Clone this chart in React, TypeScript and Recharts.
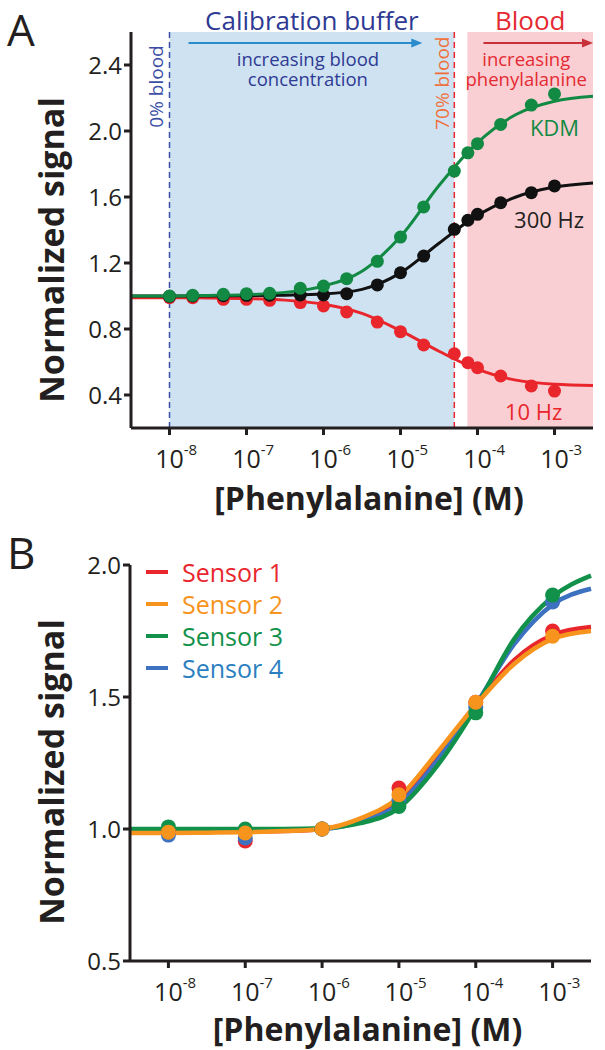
import React from 'react';
import {
  ComposedChart, Line, Scatter, XAxis, YAxis, ReferenceArea, ReferenceLine, ReferenceDot, Legend,
} from 'recharts';

const FONT = '"Open Sans", "Noto Sans", sans-serif';
const INK = '#231f20';

// panel A: measured points, concentration in M
const concA = [1e-8, 2e-8, 5e-8, 1e-7, 2e-7, 5e-7, 1e-6, 2e-6, 5e-6, 1e-5, 2e-5, 5e-5, 7.5e-5, 1e-4, 2e-4, 5e-4, 1e-3];
const kdmPts = [1.0, 1.004, 1.01, 1.014, 1.016, 1.047, 1.06, 1.105, 1.21, 1.357, 1.54, 1.757, 1.868, 1.923, 2.04, 2.157, 2.225];
const hz300Pts = [0.998, 1.0, 1.002, 1.004, 1.005, 1.006, 1.006, 1.014, 1.067, 1.141, 1.242, 1.404, 1.459, 1.495, 1.565, 1.626, 1.667];
const hz10Pts = [0.99, 0.99, 0.98, 0.98, 0.974, 0.96, 0.94, 0.903, 0.842, 0.784, 0.703, 0.65, 0.596, 0.565, 0.515, 0.455, 0.424];

// fitted curves, read at half decades (log10 M)
const fitLog = [-8.5, -8, -7.5, -7, -6.5, -6, -5.5, -5, -4.5, -4, -3.5, -3, -2.5];
const kdmFit = [1.0, 1.0, 1.003, 1.008, 1.022, 1.06, 1.15, 1.36, 1.67, 1.93, 2.1, 2.18, 2.21];
const hz300Fit = [1.0, 1.0, 1.0, 1.002, 1.005, 1.012, 1.04, 1.14, 1.32, 1.49, 1.6, 1.66, 1.685];
const hz10Fit = [0.99, 0.99, 0.988, 0.984, 0.975, 0.95, 0.895, 0.79, 0.665, 0.555, 0.49, 0.465, 0.458];

// panel B
const concB = [1e-8, 1e-7, 1e-6, 1e-5, 1e-4, 1e-3];
const sensor1 = [0.99, 0.955, 1.0, 1.155, 1.48, 1.75];
const sensor2 = [0.988, 0.985, 1.0, 1.13, 1.48, 1.73];
const sensor3 = [1.008, 1.0, 1.0, 1.085, 1.44, 1.886];
const sensor4 = [0.977, 0.966, 1.0, 1.11, 1.46, 1.86];
const sensor1Fit = [0.99, 0.99, 0.99, 0.99, 0.992, 1.0, 1.035, 1.11, 1.28, 1.47, 1.64, 1.735, 1.765];
const sensor2Fit = [0.985, 0.985, 0.986, 0.988, 0.992, 1.0, 1.04, 1.12, 1.29, 1.47, 1.625, 1.72, 1.75];
const sensor3Fit = [1.0, 1.0, 1.0, 1.0, 1.0, 1.003, 1.022, 1.08, 1.24, 1.46, 1.72, 1.88, 1.96];
const sensor4Fit = [0.995, 0.995, 0.995, 0.996, 0.997, 1.0, 1.028, 1.095, 1.26, 1.47, 1.7, 1.85, 1.91];

const xTicks = [-8, -7, -6, -5, -4, -3];
const yTicksA = [0.4, 0.8, 1.2, 1.6, 2.0, 2.4];
const yTicksB = [0.5, 1.0, 1.5, 2.0];
const calibRange = [1e-8, 5e-5];
const bloodStart = 7.4e-5;

const pts = (xs: number[], ys: number[]) => xs.map((c, i) => ({ x: Math.log10(c), y: ys[i] }));
const fit = (ys: number[]) => fitLog.map((x, i) => ({ x, y: ys[i] }));

const sensors = [
  { name: 'Sensor 1', color: '#e8262c', text: '#e8262c', pts: sensor1, fit: sensor1Fit },
  { name: 'Sensor 2', color: '#f7941d', text: '#f7941d', pts: sensor2, fit: sensor2Fit },
  { name: 'Sensor 3', color: '#12914a', text: '#12914a', pts: sensor3, fit: sensor3Fit },
  { name: 'Sensor 4', color: '#3d72c0', text: '#2b7fc1', pts: sensor4, fit: sensor4Fit },
];
// draw order: orange on top
const drawOrder = [0, 3, 2, 1];

function PowerTick({ x, y, payload }: any) {
  return (
    <text x={x - 14.3} y={y + 31} fontFamily={FONT} fill={INK} fontSize={25}>
      10<tspan dy={-13} fontSize={15}>{payload.value}</tspan>
    </text>
  );
}

function YTitle({ viewBox, shift }: any) {
  const cx = viewBox.x + 51;
  const cy = viewBox.y + viewBox.height / 2 + shift;
  return (
    <text x={cx} y={cy} transform={`rotate(-90 ${cx} ${cy})`} textAnchor="middle" dominantBaseline="central"
      fontFamily={FONT} fontWeight={700} fontSize={34} fill={INK}>Normalized signal</text>
  );
}

function XTitle({ viewBox, dy }: any) {
  return (
    <text x={viewBox.x + viewBox.width / 2 + 7} y={viewBox.y + dy} textAnchor="middle" dominantBaseline="central"
      fontFamily={FONT} fontWeight={700} fontSize={32} fill={INK}>[Phenylalanine] (M)</text>
  );
}

function AreaHeader({ viewBox, title, lines, color, arrow, x0, x1 }: any) {
  const { x, y, width } = viewBox;
  const cx = x + width / 2;
  const ax0 = x + x0;
  const ax1 = x + width - x1;
  const ay = y + 11;
  return (
    <g fontFamily={FONT}>
      <text x={cx} y={y - 12} textAnchor="middle" dominantBaseline="central" fontSize={26} fill={color}>{title}</text>
      <line x1={ax0} y1={ay} x2={ax1 - 8} y2={ay} stroke={arrow} strokeWidth={2} />
      <polygon points={`${ax1},${ay} ${ax1 - 11},${ay - 4.5} ${ax1 - 11},${ay + 4.5}`} fill={arrow} />
      <text y={y + 34} textAnchor="middle" fontSize={18.5} fill={color}>
        {lines.map((t: string, i: number) => (
          <tspan key={t} x={cx - 4} dy={i === 0 ? 0 : 19.5}>{t}</tspan>
        ))}
      </text>
    </g>
  );
}

const note = (text: string, color: string, size: number, rotate = false) => (p: any) => (
  <text x={p.cx} y={p.cy} textAnchor="middle" dominantBaseline="central" fontFamily={FONT} fontSize={size} fill={color}
    transform={rotate ? `rotate(-90 ${p.cx} ${p.cy})` : undefined}>{text}</text>
);

const dot = (color: string, r: number) => (p: any) => <circle cx={p.cx} cy={p.cy} r={r} fill={color} />;

function SensorLegend() {
  return (
    <div style={{ fontFamily: FONT }}>
      {sensors.map((s) => (
        <div key={s.name} style={{ display: 'flex', alignItems: 'center', height: 32 }}>
          <span style={{ width: 22, height: 4, background: s.color, marginRight: 14 }} />
          <span style={{ color: s.text, fontSize: 25 }}>{s.name}</span>
        </div>
      ))}
    </div>
  );
}

const axisProps = { stroke: INK, strokeWidth: 3 };

export default function App() {
  return (
    <div style={{ position: 'absolute', left: 0, top: 0, width: 605, height: 1050, background: '#fff', overflow: 'hidden' }}>
      <div style={{ position: 'absolute', left: 0, top: 0 }}>
        <ComposedChart width={605} height={520} margin={{ top: 32, right: 12, bottom: 0, left: 0 }}>
          <XAxis type="number" dataKey="x" domain={[-8.5, -2.5]} ticks={xTicks} height={92}
            axisLine={axisProps} tickLine={axisProps} tickSize={7} tick={<PowerTick />} label={<XTitle dy={69} />} />
          <YAxis type="number" dataKey="y" domain={[0.2, 2.6]} ticks={yTicksA} width={131}
            axisLine={axisProps} tickLine={axisProps} tickSize={7} tickMargin={2}
            tickFormatter={(v: number) => v.toFixed(1)} tick={{ fontSize: 24, fill: INK, fontFamily: FONT }} label={<YTitle shift={20} />} />
          <ReferenceArea x1={Math.log10(calibRange[0])} x2={Math.log10(calibRange[1])} fill="#cee2f2" fillOpacity={1} stroke="none"
            label={<AreaHeader title="Calibration buffer" lines={['increasing blood', 'concentration']} color="#2e3a93" arrow="#2a8bcd" x0={19} x1={32} />} />
          <ReferenceArea x1={Math.log10(bloodStart)} x2={-2.5} fill="#f9cfd3" fillOpacity={1} stroke="none"
            label={<AreaHeader title="Blood" lines={['increasing', 'phenylalanine']} color="#e42a32" arrow="#c8303a" x0={16} x1={0} />} />
          <ReferenceLine x={Math.log10(calibRange[0])} stroke="#3a4ea6" strokeDasharray="6 4" strokeWidth={1.5} />
          <ReferenceLine x={Math.log10(calibRange[1])} stroke="#e8262c" strokeDasharray="6 4" strokeWidth={1.5} />
          <ReferenceDot x={-8.17} y={2.27} r={0} shape={note('0% blood', '#3a4ea6', 19, true)} />
          <ReferenceDot x={-4.46} y={2.29} r={0} shape={note('70% blood', '#f0703c', 19, true)} />
          <ReferenceDot x={-3.0} y={2.024} r={0} shape={note('KDM', '#128a43', 22)} />
          <ReferenceDot x={-3.07} y={1.467} r={0} shape={note('300 Hz', INK, 22)} />
          <ReferenceDot x={-3.27} y={0.303} r={0} shape={note('10 Hz', '#e8262c', 22)} />

          <Line data={fit(hz10Fit)} dataKey="y" type="monotone" stroke="#e8262c" strokeWidth={3} dot={false} isAnimationActive={false} />
          <Scatter data={pts(concA, hz10Pts)} dataKey="y" shape={dot('#e8262c', 6.5)} isAnimationActive={false} />
          <Line data={fit(hz300Fit)} dataKey="y" type="monotone" stroke="#111" strokeWidth={3} dot={false} isAnimationActive={false} />
          <Scatter data={pts(concA, hz300Pts)} dataKey="y" shape={dot('#111', 6.5)} isAnimationActive={false} />
          <Line data={fit(kdmFit)} dataKey="y" type="monotone" stroke="#128a43" strokeWidth={3} dot={false} isAnimationActive={false} />
          <Scatter data={pts(concA, kdmPts)} dataKey="y" shape={dot('#128a43', 6.5)} isAnimationActive={false} />
        </ComposedChart>
      </div>

      <div style={{ position: 'absolute', left: 0, top: 520 }}>
        <ComposedChart width={605} height={530} margin={{ top: 45, right: 14, bottom: 0, left: 0 }}>
          <XAxis type="number" dataKey="x" domain={[-8.5, -2.5]} ticks={xTicks} height={89}
            axisLine={axisProps} tickLine={axisProps} tickSize={7} tick={<PowerTick />} label={<XTitle dy={67} />} />
          <YAxis type="number" dataKey="y" domain={[0.5, 2.0]} ticks={yTicksB} width={130}
            axisLine={axisProps} tickLine={axisProps} tickSize={7} tickMargin={2}
            tickFormatter={(v: number) => v.toFixed(1)} tick={{ fontSize: 24, fill: INK, fontFamily: FONT }} label={<YTitle shift={9} />} />
          <Legend layout="horizontal" verticalAlign="middle" align="center" content={<SensorLegend />}
            wrapperStyle={{ left: 146, top: 36, width: 200 }} />
          {drawOrder.map((i) => (
            <Line key={`l${i}`} data={fit(sensors[i].fit)} dataKey="y" type="monotone" stroke={sensors[i].color}
              strokeWidth={4.5} dot={false} isAnimationActive={false} />
          ))}
          {drawOrder.map((i) => (
            <Scatter key={`s${i}`} data={pts(concB, sensors[i].pts)} dataKey="y" shape={dot(sensors[i].color, 7.5)} isAnimationActive={false} />
          ))}
        </ComposedChart>
      </div>

      <svg width={605} height={1050} style={{ position: 'absolute', left: 0, top: 0, pointerEvents: 'none' }}>
        <text x={7} y={46} fontFamily={FONT} fontSize={44} fill={INK}>A</text>
        <text x={7} y={569} fontFamily={FONT} fontSize={44} fill={INK}>B</text>
      </svg>
    </div>
  );
}
